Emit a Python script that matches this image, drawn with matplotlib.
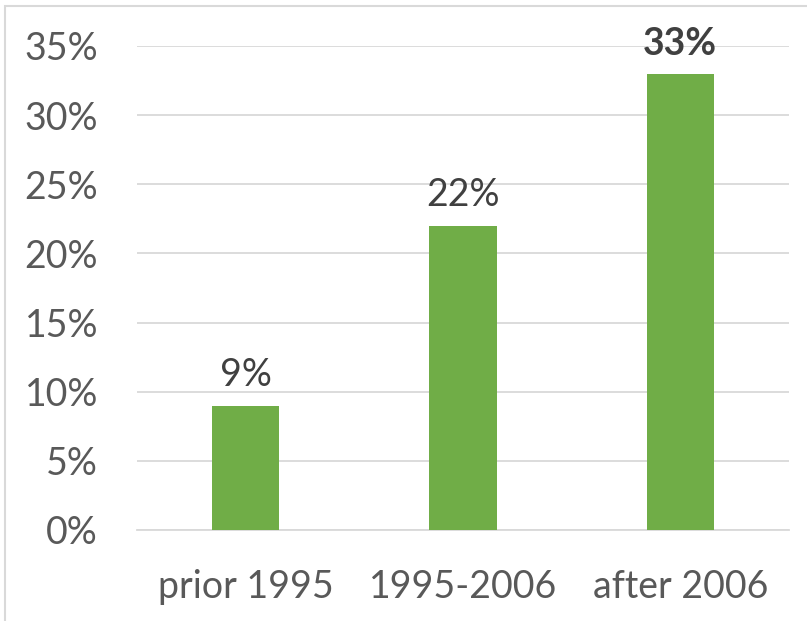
import matplotlib
matplotlib.use("Agg")
import matplotlib.pyplot as plt
from matplotlib.ticker import PercentFormatter
from matplotlib.patches import Rectangle

categories = ["prior 1995", "1995-2006", "after 2006"]
values = [0.09, 0.22, 0.33]
labels = ["9%", "22%", "33%"]
bold_flags = [False, False, True]
yticks = [0, 0.05, 0.10, 0.15, 0.20, 0.25, 0.30, 0.35]

plt.rcParams['font.family'] = ['Lato', 'DejaVu Sans']

fig = plt.figure(figsize=(8.07, 6.21), dpi=100)
ax = fig.add_axes([137/807, 1-530/621, (789-137)/807, (530-46)/621])

x = range(len(categories))
ax.bar(x, values, width=0.31, color="#70ad47", zorder=3)
ax.set_xlim(-0.5, 2.5)
ax.set_ylim(0, 0.35)
ax.set_yticks(yticks)
ax.yaxis.set_major_formatter(PercentFormatter(1.0, decimals=0))
ax.set_xticks(list(x))
ax.set_xticklabels(categories)
ax.tick_params(axis='both', length=0, labelsize=27, labelcolor="#595959")
ax.tick_params(axis='y', pad=28)
ax.tick_params(axis='x', pad=28)
ax.grid(axis='y', color="#d9d9d9", linewidth=1.3, zorder=0)
for s in ["top", "right", "left"]:
    ax.spines[s].set_visible(False)
ax.spines["bottom"].set_color("#d9d9d9")
ax.spines["bottom"].set_linewidth(1.3)

for xi, v, lab, b in zip(x, values, labels, bold_flags):
    ax.annotate(lab, (xi, v), xytext=(0, 9), textcoords="offset points",
                ha="center", va="bottom", fontsize=27, color="#404040",
                fontweight="bold" if b else "normal")

fig.patches.append(Rectangle((5/807, -0.1), 1.2, 1.1 - 6/621, transform=fig.transFigure,
                             fill=False, edgecolor="#d9d9d9", linewidth=1.5))

fig.savefig("out.png", dpi=100)
